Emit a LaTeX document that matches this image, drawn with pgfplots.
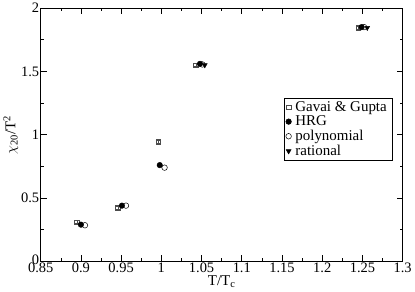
\documentclass[border=0pt]{standalone}
\usepackage{fontspec}
\setmainfont{Liberation Serif}
\usepackage{pgfplots}
\pgfplotsset{compat=1.18}
\begin{document}
\begin{tikzpicture}
\begin{axis}[
  scale only axis,
  width=363pt, height=254pt,
  xmin=0.85, xmax=1.3, ymin=0, ymax=2,
  xtick={0.85,0.9,...,1.31},
  xticklabels={0.85,0.9,0.95,1,1.05,1.1,1.15,1.2,1.25,1.3},
  ytick={0,0.5,1,1.5,2},
  yticklabels={\raisebox{3pt}{0},0.5,1,1.5,2},
  minor x tick num=1, minor y tick num=1,
  tick align=inside,
  major tick length=6pt, minor tick length=3pt,
  tick style={black, line width=0.6pt},
  axis line style={line width=0.8pt},
  ticklabel style={font=\fontsize{14.5}{15}\selectfont},
  xticklabel style={yshift=2pt},
  yticklabel style={xshift=2pt},
  label style={font=\fontsize{15}{16}\selectfont},
  xlabel={T/T\textsubscript{c}},
  ylabel={$\chi$\textsubscript{20}/T\textsuperscript{2}},
  xlabel style={yshift=4pt},
  ylabel style={yshift=-4pt},
  legend style={at={(0.972,0.646)}, anchor=north east, font=\fontsize{15}{15}\selectfont,
    draw=black, line width=0.5pt, inner sep=1.5pt, row sep=-1pt, nodes={inner xsep=4pt}},
  legend cell align=left,
]
\addplot[only marks, mark=square, mark size=2.3pt, black!70, mark options={line width=0.5pt},
  error bars/.cd, y dir=both, y explicit, error bar style={black!70, line width=0.5pt}, error mark options={rotate=90, mark size=2.3pt, black!70}]
  coordinates {
  (0.895,0.31) +- (0,0.012)
  (0.946,0.425) +- (0,0.012)
  (0.996,0.945) +- (0,0.015)
  (1.043,1.55) +- (0,0.012)
  (1.245,1.845) +- (0,0.01)
};
\addlegendentry{Gavai \& Gupta}
\addplot[only marks, mark=*, mark size=2.8pt, black]
  coordinates {(0.90,0.29) (0.951,0.44) (0.998,0.76) (1.048,1.56) (1.249,1.85)};
\addlegendentry{HRG}
\addplot[only marks, mark=o, mark size=2.8pt, black, mark options={line width=0.5pt}]
  coordinates {(0.905,0.285) (0.956,0.44) (1.004,0.74) (1.051,1.555) (1.252,1.85)};
\addlegendentry{polynomial}
\addplot[only marks, mark=triangle*, mark size=2.8pt, black, mark options={rotate=180}]
  coordinates {(1.054,1.55) (1.256,1.845)};
\addlegendentry{rational}
\end{axis}
\end{tikzpicture}
\end{document}
